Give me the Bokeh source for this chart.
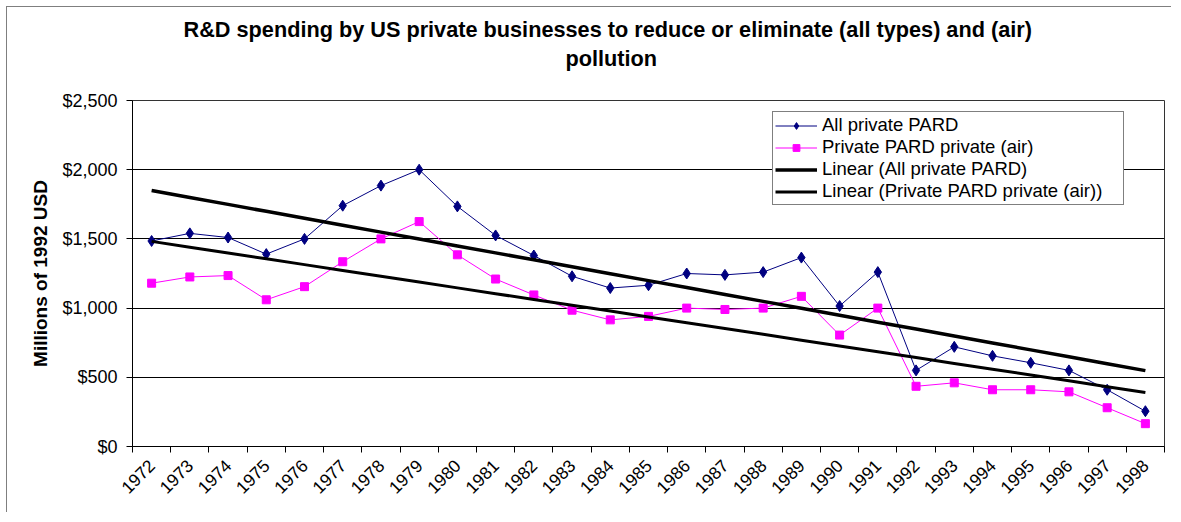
import math
import numpy as np
from bokeh.plotting import figure
from bokeh.models import (Range1d, FixedTicker, NumeralTickFormatter, Legend,
                          LegendItem, Title)
from bokeh.embed import file_html
from bokeh.resources import INLINE

# ---------------- data ----------------
years = ["1972", "1973", "1974", "1975", "1976", "1977", "1978", "1979", "1980",
         "1981", "1982", "1983", "1984", "1985", "1986", "1987", "1988", "1989",
         "1990", "1991", "1992", "1993", "1994", "1995", "1996", "1997", "1998"]
all_pard = [1485, 1540, 1510, 1390, 1500, 1740, 1885, 2000, 1735, 1525, 1380,
            1230, 1145, 1165, 1250, 1240, 1260, 1365, 1015, 1260, 550, 720,
            655, 605, 550, 410, 255]
air_pard = [1180, 1225, 1235, 1060, 1155, 1335, 1500, 1625, 1385, 1210, 1095,
            985, 915, 940, 1000, 990, 1000, 1085, 805, 1000, 435, 460, 410,
            410, 395, 280, 165]
y_ticks = [0, 500, 1000, 1500, 2000, 2500]
series_names = ["All private PARD", "Private PARD private (air)",
                "Linear (All private PARD)", "Linear (Private PARD private (air))"]
title_line1 = "R&D spending by US private businesses to reduce or eliminate (all types) and (air)"
title_line2 = "pollution"
y_label = "Millions of 1992 USD"

FONT = "Liberation Sans"
n = len(years)
x = np.arange(n) + 0.5  # category centres on a numeric axis

p = figure(width=1165, height=506, output_backend="svg", toolbar_location=None,
           x_range=Range1d(0, n), y_range=Range1d(y_ticks[0], y_ticks[-1]),
           min_border_left=125, min_border_right=8, min_border_top=93,
           min_border_bottom=67,
           styles={"margin-left": "6px", "margin-top": "6px",
                   "border-left": "1px solid #7f7f7f",
                   "border-top": "1px solid #7f7f7f"})
p.background_fill_color = "white"
p.border_fill_color = "white"
p.outline_line_color = "#333333"
p.outline_line_width = 1

# titles (nearest the frame first)
p.add_layout(Title(text=" ", text_font=FONT, text_font_size="21px", standoff=3), "above")
p.add_layout(Title(text=title_line2, align="left", offset=433, text_font=FONT,
                   text_font_size="21.7px", text_font_style="bold", standoff=4,
                   text_color="black"), "above")
p.add_layout(Title(text=title_line1, align="left", offset=51, text_font=FONT,
                   text_font_size="21.7px", text_font_style="bold", standoff=0,
                   text_color="black"), "above")

# axes
p.xaxis.ticker = FixedTicker(ticks=list(x), minor_ticks=list(range(n + 1)))
p.xaxis.major_label_overrides = {float(xi): yr for xi, yr in zip(x, years)}
p.xaxis.major_tick_line_color = None
p.xaxis.minor_tick_line_color = "black"
p.xaxis.minor_tick_in = 0
p.xaxis.minor_tick_out = 6
p.xaxis.major_label_orientation = math.pi / 4
p.xaxis.major_label_standoff = 10
p.xaxis.major_label_text_font = FONT
p.xaxis.major_label_text_font_size = "17.5px"
p.xaxis.major_label_text_color = "black"
p.xaxis.axis_line_color = "black"

p.yaxis.ticker = FixedTicker(ticks=y_ticks, minor_ticks=[])
p.yaxis.formatter = NumeralTickFormatter(format="$0,0")
p.yaxis.major_tick_in = 0
p.yaxis.major_tick_out = 6
p.yaxis.major_tick_line_color = "black"
p.yaxis.minor_tick_line_color = None
p.yaxis.major_label_standoff = 9
p.yaxis.major_label_text_font = FONT
p.yaxis.major_label_text_font_size = "18px"
p.yaxis.major_label_text_color = "black"
p.yaxis.axis_line_color = "black"
p.yaxis.axis_label = y_label
p.yaxis.axis_label_text_font = FONT
p.yaxis.axis_label_text_font_size = "19px"
p.yaxis.axis_label_text_font_style = "bold"
p.yaxis.axis_label_text_color = "black"
p.yaxis.axis_label_standoff = 8

p.xgrid.visible = False
p.ygrid.ticker = FixedTicker(ticks=y_ticks, minor_ticks=[])
p.ygrid.grid_line_color = "black"
p.ygrid.grid_line_width = 1

# series
NAVY = "#000080"
MAGENTA = "#FF00FF"
l1 = p.line(x, all_pard, line_color=NAVY, line_width=1)
m1 = p.scatter(x, all_pard, marker="diamond", size=11, fill_color=NAVY, line_color=NAVY)
l2 = p.line(x, air_pard, line_color=MAGENTA, line_width=1)
m2 = p.scatter(x, air_pard, marker="square", size=8, fill_color=MAGENTA, line_color=MAGENTA)

# linear trend lines (least squares fits of the series above)
c1 = np.polyfit(x, all_pard, 1)
c2 = np.polyfit(x, air_pard, 1)
t1 = p.line(x, np.polyval(c1, x), line_color="black", line_width=3.5)
t2 = p.line(x, np.polyval(c2, x), line_color="black", line_width=3)

legend = Legend(items=[
    LegendItem(label=series_names[0], renderers=[l1, m1]),
    LegendItem(label=series_names[1], renderers=[l2, m2]),
    LegendItem(label=series_names[2], renderers=[t1]),
    LegendItem(label=series_names[3], renderers=[t2]),
], location=(640, 241))
legend.border_line_color = "black"
legend.border_line_width = 1
legend.background_fill_color = "white"
legend.background_fill_alpha = 1
legend.padding = 2
legend.spacing = 0
legend.margin = 0
legend.glyph_width = 42
legend.glyph_height = 17
legend.label_height = 17
legend.label_width = 299
legend.label_standoff = 5
legend.label_text_font = FONT
legend.label_text_font_size = "18.5px"
legend.label_text_color = "black"
p.add_layout(legend)

open("out.html", "w").write(file_html(p, INLINE))
